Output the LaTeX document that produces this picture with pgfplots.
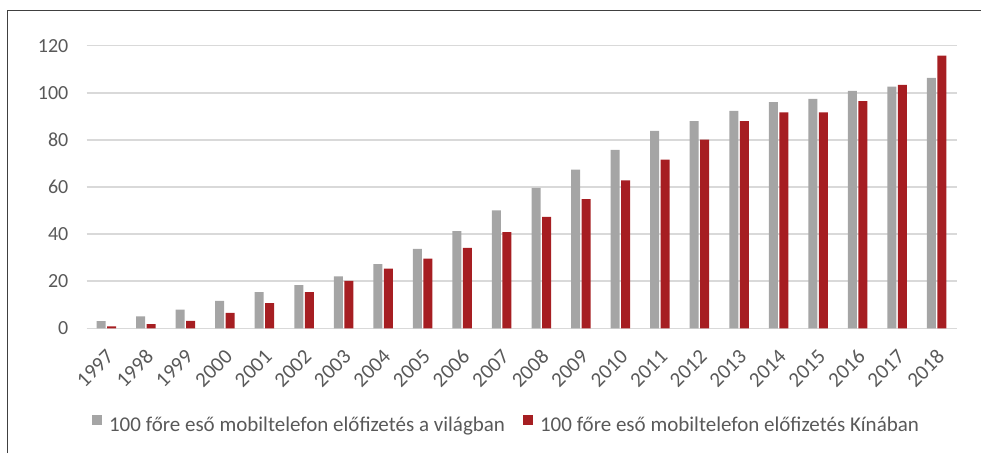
\documentclass[border=0pt]{standalone}
\usepackage{pgfplots}
\pgfplotsset{compat=1.18}
\usepackage{fontspec}
\setmainfont{Carlito}
\definecolor{barGray}{HTML}{A5A5A5}
\definecolor{barRed}{HTML}{A61E22}
\definecolor{txt}{HTML}{595959}
\definecolor{gridc}{HTML}{D9D9D9}
\begin{document}
\begin{tikzpicture}[x=1pt,y=1pt]
\path[use as bounding box] (0,0) rectangle (981,453);
\draw[color=black!75, line width=1pt] (7,0) -- (7,442) -- (981,442);
\begin{axis}[
  at={(86.5pt,124.7pt)}, anchor=south west,
  width=870pt, height=282.6pt, scale only axis,
  xmin=-0.5, xmax=21.5, ymin=0, ymax=120,
  ytick={0,20,40,60,80,100,120},
  xtick={0,...,21},
  xticklabels={1997,1998,1999,2000,2001,2002,2003,2004,2005,2006,2007,2008,2009,2010,2011,2012,2013,2014,2015,2016,2017,2018},
  /pgf/number format/assume math mode=true,
  ybar=1.5pt, bar width=9pt,
  axis line style={draw=none},
  major tick length=0pt,
  ymajorgrids, grid style={gridc, line width=1.5pt},
  tick label style={font=\fontsize{20}{24}\selectfont, text=txt},
  yticklabel style={anchor=east, inner sep=0pt, xshift=-18pt},
  xticklabel style={font=\fontsize{21}{25}\selectfont, anchor=east, inner sep=0pt, xshift=4pt, yshift=-25pt, rotate=45},
  legend style={at={(0.4828,-0.342)}, anchor=center, draw=none, fill=none,
    legend columns=2, font=\fontsize{21}{25}\selectfont, text=txt,
    /tikz/every odd column/.append style={column sep=5pt},
    /tikz/every even column/.append style={column sep=16pt}},
  legend cell align=left,
]
\addplot[fill=barGray, draw=none, legend image code/.code={\fill[barGray] (0pt,0pt) rectangle (10pt,10.5pt);}]
  coordinates {(0,3.1) (1,5.1) (2,7.9) (3,11.6) (4,15.4) (5,18.3) (6,22.1) (7,27.2) (8,33.7) (9,41.3) (10,50.1) (11,59.6) (12,67.4) (13,75.8) (14,83.8) (15,88.0) (16,92.3) (17,96.0) (18,97.4) (19,100.8) (20,102.6) (21,106.3)};
\addlegendentry{100 főre eső mobiltelefon előfizetés a világban}
\addplot[fill=barRed, draw=none, legend image code/.code={\fill[barRed] (0pt,0pt) rectangle (10pt,10.5pt);}]
  coordinates {(0,0.8) (1,1.8) (2,3.2) (3,6.5) (4,10.7) (5,15.4) (6,20.1) (7,25.3) (8,29.6) (9,34.2) (10,40.8) (11,47.3) (12,54.8) (13,62.8) (14,71.6) (15,80.1) (16,88.0) (17,91.7) (18,91.7) (19,96.5) (20,103.4) (21,115.8)};
\addlegendentry{100 főre eső mobiltelefon előfizetés Kínában}
\end{axis}
\end{tikzpicture}
\end{document}
